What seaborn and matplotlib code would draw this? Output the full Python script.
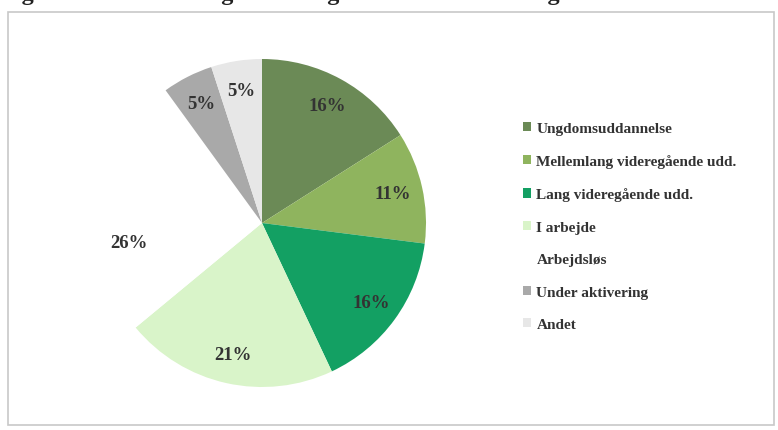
import matplotlib
matplotlib.use("Agg")
import matplotlib.pyplot as plt
import seaborn as sns
from matplotlib.patches import Patch, Rectangle

sns.set_theme(style="white")
plt.rcParams["font.family"] = ["Liberation Serif", "DejaVu Serif"]

title = "Fig. 3 Uddannelses- og beskæftigelsesstatus for 19 unge"
categories = [
    "Ungdomsuddannelse",
    "Mellemlang videregående udd.",
    "Lang videregående udd.",
    "I arbejde",
    "Arbejdsløs",
    "Under aktivering",
    "Andet",
]
shares = [16, 11, 16, 21, 26, 5, 5]
colors = ["#6b8a56", "#8fb45e", "#13a063", "#d9f4c9", "#ffffff", "#a9a9a9", "#e7e7e7"]

fig = plt.figure(figsize=(7.78, 4.31), dpi=100)
fig.patch.set_facecolor("white")

# frame around the chart area
fig.add_artist(Rectangle((0.010, 0.012), 0.985, 0.958, transform=fig.transFigure,
                         fill=False, edgecolor="#c8c8c8", linewidth=1.2))

# title, partly cropped at the top edge
fig.text(0.0, 1.012, title, ha="left", va="center", fontsize=17.5,
         fontweight="bold", color="#222222")

cx, cy, r = 262, 224, 164
ax = fig.add_axes([(cx - r)/778, 1 - (cy + r)/431, 2*r/778, 2*r/431])
wedges, texts, autotexts = ax.pie(
    shares, colors=colors, startangle=90, counterclock=False,
    autopct=lambda p: f"{p:.0f}%", pctdistance=0.82,
    wedgeprops=dict(linewidth=0),
    textprops=dict(fontsize=13.5, fontweight="bold", color="#333333"),
)
# the label of the white slice sits a little below its wedge middle
x0, y0 = autotexts[4].get_position()
autotexts[4].set_position((x0, y0 - 0.22))

ax.set_xlim(-1, 1)
ax.set_ylim(-1, 1)
ax.set_aspect("equal")
ax.axis("off")

handles = [Patch(facecolor=c, edgecolor="none") for c in colors]
leg = fig.legend(handles, categories, loc="upper left",
                 bbox_to_anchor=(509/778, 1 - 109/431),
                 frameon=False, handlelength=0.55, handleheight=0.55,
                 handletextpad=0.35, labelspacing=1.27,
                 prop=dict(size=11, weight="bold"))
for t in leg.get_texts():
    t.set_color("#333333")

fig.savefig("out.png", dpi=100, facecolor="white")
